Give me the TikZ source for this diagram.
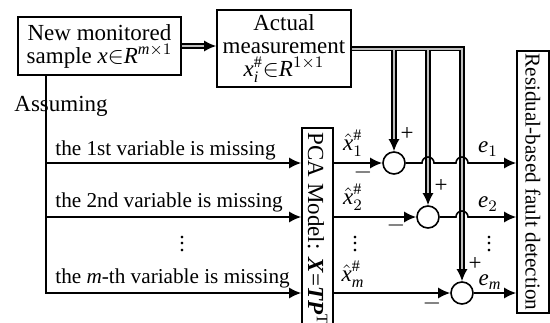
\documentclass[tikz,border=0pt]{standalone}
\usepackage{amsmath}
\usepackage{graphicx}
\usepackage{fontspec}
\setmainfont{Liberation Serif}
\usetikzlibrary{arrows.meta,positioning,calc}
\newcommand{\colondots}{\vbox{\baselineskip3.2pt\lineskiplimit0pt\hbox{.}\hbox{.}\hbox{.}}}
\tikzset{
    block/.style={rectangle, draw, line width=0.8pt, align=center, inner sep=0pt, font=\fontsize{11.5}{11.5}\selectfont},
    sumnode/.style={circle, draw, line width=0.8pt, minimum size=11pt, inner sep=0pt},
    line/.style={draw, line width=0.8pt, -{Latex[length=6pt,width=5.5pt]}},
    busouter/.style={line width=2.6pt, line join=miter},
    businner/.style={line width=1pt, black!25},
    lbl/.style={inner sep=0pt, font=\fontsize{11.5}{12}\selectfont},
    sublbl/.style={inner sep=0pt, font=\fontsize{10.6}{12}\selectfont},
    dots/.style={inner sep=0pt, font=\fontsize{11}{12}\selectfont}
}

\begin{document}
\begin{tikzpicture}[x=0.5pt,y=-0.5pt]
    \useasboundingbox (0,0) rectangle (550,322);

    % Blocks
    \node[block, minimum width=81.5pt, minimum height=29pt] at (99.5,46) (sample) {New monitored\\sample \textit{x}$\in$\textit{R}$^{\textit{m}\times1}$};
    \node[block, minimum width=67pt, minimum height=38.5pt] at (284,48.5) (meas) {Actual\\measurement\\$\textit{x}_{\textit{i}}^{\#}{\in}$\textit{R}$^{1\times1}$};
    \node[block, minimum width=15.5pt, minimum height=101pt] at (317.5,229) (pca) {\rotatebox{-90}{PCA Model: \textbf{\textit{X}}=\textbf{\textit{TP}}$^{\mathrm{T}}$}};
    \node[block, minimum width=16pt, minimum height=131pt, font=\fontsize{10.6}{12}\selectfont] at (533,182) (res) {\rotatebox{-90}{Residual-based fault detection}};

    % Summing junctions
    \node[sumnode] at (394,163) (c1) {};
    \node[sumnode] at (428,217) (c2) {};
    \node[sumnode] at (462,293) (c3) {};

    % Ends of the double lines
    \coordinate (split) at ($(sample.south west)+(29,0)$);
    \coordinate (t0) at ($(meas.west |- sample.east)+(-11,0)$);
    \coordinate (t1) at ($(c1.north)+(0,-11)$);
    \coordinate (t2) at ($(c2.north)+(0,-11)$);
    \coordinate (t3) at ($(c3.north)+(0,-11)$);

    % Double lines
    \foreach \s in {busouter, businner} {
        \draw[\s] (sample.east) -- (t0);
        \draw[\s] (meas.east) -| (t3);
        \draw[\s] (t1 |- meas.east) -- (t1);
        \draw[\s] (t2 |- meas.east) -- (t2);
    }
    \draw[line] (t0) -- (meas.west |- t0);
    \draw[line] (t1) -- (c1.north);
    \draw[line] (t2) -- (c2.north);
    \draw[line] (t3) -- (c3.north);

    % Missing-variable branches
    \draw[line] (split) |- (pca.west |- c1);
    \draw[line] (split) |- (pca.west |- c2);
    \draw[line] (split) |- (pca.west |- c3);

    % Reconstructions into the junctions
    \draw[line] (pca.east |- c1) -- (c1.west);
    \draw[line] (pca.east |- c2) -- (c2.west);
    \draw[line] (pca.east |- c3) -- (c3.west);

    % Residuals, hopping over the double lines
    \draw[line] (c1.east) -- ($(c2 |- c1)+(-6,0)$) arc[start angle=180, end angle=0, radius=3pt]
        -- ($(c3 |- c1)+(-6,0)$) arc[start angle=180, end angle=0, radius=3pt] -- (res.west |- c1);
    \draw[line] (c2.east) -- ($(c3 |- c2)+(-6,0)$) arc[start angle=180, end angle=0, radius=3pt] -- (res.west |- c2);
    \draw[line] (c3.east) -- (res.west |- c3);

    % Labels
    \node[lbl, anchor=base west] at (14,111) (assume) {Assuming};
    \node[sublbl, anchor=base west] at (55,155) (miss1) {the 1st variable is missing};
    \node[sublbl, anchor=base west] at (55,207) (miss2) {the 2nd variable is missing};
    \node[sublbl, anchor=base west] at (55,283) (missm) {the \textit{m}-th variable is missing};
    \node[dots] at (182,244) (vd1) {\colondots};

    \node[lbl] at (353,143) (xh1) {$\hat{\textit{x}}_{1}^{\#}$};
    \node[lbl] at (353,197) (xh2) {$\hat{\textit{x}}_{2}^{\#}$};
    \node[lbl] at (353,274) (xhm) {$\hat{\textit{x}}_{\textit{m}}^{\#}$};
    \node[dots] at (355,244) (vd2) {\colondots};

    \node[lbl] at (488,149) (e1) {$\textit{e}_{1}$};
    \node[lbl] at (488,204) (e2) {$\textit{e}_{2}$};
    \node[lbl] at (490,282) (em) {$\textit{e}_{\textit{m}}$};
    \node[dots] at (489,244) (vd3) {\colondots};

    % Signs
    \node[lbl] at (407,134) (p1) {+};
    \node[lbl] at (441,186) (p2) {+};
    \node[lbl] at (475,264) (p3) {+};
    \node[lbl] at (363,172) (m1) {$-$};
    \node[lbl] at (396,225) (m2) {$-$};
    \node[lbl] at (432,303) (m3) {$-$};
\end{tikzpicture}
\end{document}
